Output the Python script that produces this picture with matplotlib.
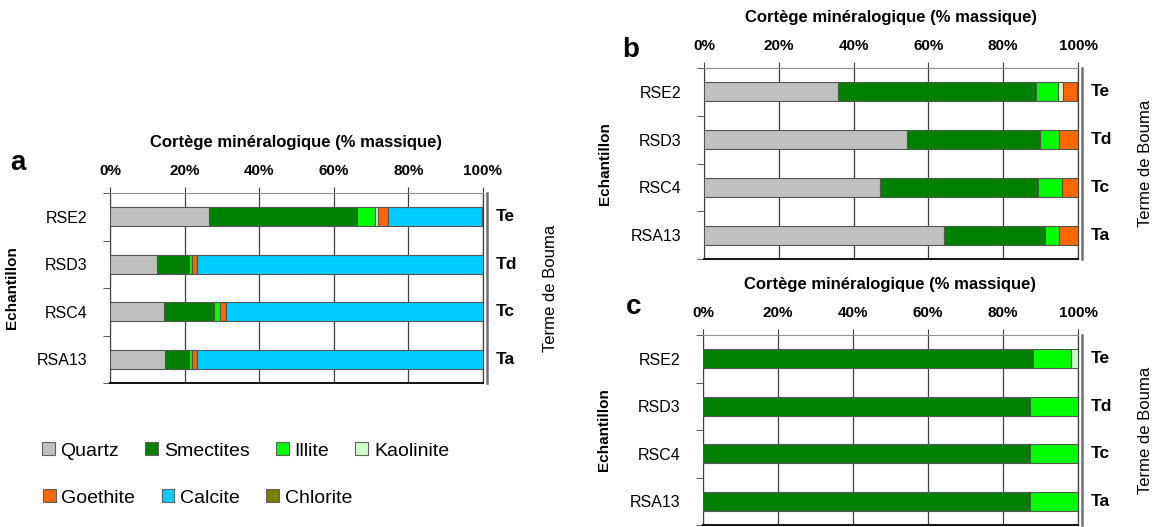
import numpy as np
import matplotlib
matplotlib.use('Agg')
import matplotlib.pyplot as plt
from matplotlib.patches import Patch

plt.rcParams['font.family'] = ['Liberation Sans', 'DejaVu Sans']

# Data (% massique), columns follow `minerals`
samples = ['RSE2', 'RSD3', 'RSC4', 'RSA13']
bouma = ['Te', 'Td', 'Tc', 'Ta']
minerals = ['Quartz', 'Smectites', 'Illite', 'Kaolinite', 'Goethite', 'Calcite', 'Chlorite']
colors = ['#C0C0C0', '#008000', '#00FF00', '#CCFFCC', '#FF6600', '#00CCFF', '#808000']

# panel a: roche totale
values_a = [
    [26.6, 39.7, 4.8, 0.7, 2.8, 25.0, 0.4],
    [12.7, 8.4, 1.0, 0.0, 1.3, 76.6, 0.0],
    [14.5, 13.4, 1.7, 0.0, 1.6, 68.8, 0.0],
    [14.8, 6.4, 0.9, 0.0, 1.3, 76.6, 0.0],
]
# panel b: fraction decarbonatee
values_b = [
    [35.8, 52.9, 6.0, 1.3, 3.6, 0.0, 0.4],
    [54.3, 35.5, 5.1, 0.0, 5.1, 0.0, 0.0],
    [47.1, 42.3, 6.2, 0.0, 4.4, 0.0, 0.0],
    [64.2, 27.1, 3.6, 0.0, 5.1, 0.0, 0.0],
]
# panel c: fraction argileuse
values_c = [
    [0.0, 88.0, 10.0, 2.0, 0.0, 0.0, 0.0],
    [0.0, 87.1, 12.9, 0.0, 0.0, 0.0, 0.0],
    [0.0, 87.1, 12.9, 0.0, 0.0, 0.0, 0.0],
    [0.0, 87.1, 12.9, 0.0, 0.0, 0.0, 0.0],
]
xticks = [0, 20, 40, 60, 80, 100]

W, H = 1157, 527


def box(left, top, right, bottom):
    return [left / W, 1 - bottom / H, (right - left) / W, (bottom - top) / H]


def draw_panel(fig, rect, values, letter, letter_xy):
    ax = fig.add_axes(rect)
    vals = np.array(values)
    y = np.arange(len(samples))
    left = np.zeros(len(samples))
    for i, m in enumerate(minerals):
        w = vals[:, i]
        ax.barh(y, w, left=left, height=0.4, color=colors[i],
                edgecolor='#555555', linewidth=np.where(w > 0, 0.8, 0), zorder=3)
        left += w

    ax.set_xlim(0, 100)
    ax.set_ylim(3.5, -0.5)
    ax.xaxis.tick_top()
    ax.set_xticks(xticks)
    ax.set_xticklabels([f'{t}%' for t in xticks], fontsize=11, fontweight='bold')
    ax.tick_params(axis='x', direction='out', length=4, pad=7, color='#404040')
    ax.grid(axis='x', color='#404040', linewidth=0.9, zorder=0)
    ax.set_axisbelow(True)

    ax.set_yticks(y)
    ax.set_yticklabels(samples, fontsize=11.5)
    ax.tick_params(axis='y', which='major', length=0, pad=16)
    ax.set_yticks(np.arange(-0.5, 4, 1), minor=True)
    ax.tick_params(axis='y', which='minor', length=5, color='#404040')
    ax.set_ylabel('Echantillon', fontsize=11, fontweight='bold')
    ax.yaxis.set_label_coords(-0.245, 0.5)

    ax.spines['top'].set_color('#909090')
    ax.spines['top'].set_linewidth(0.8)
    ax.spines['left'].set_color('#404040')
    ax.spines['right'].set_color('#404040')
    ax.spines['right'].set_linewidth(0.9)
    ax.spines['bottom'].set_color('black')
    ax.spines['bottom'].set_linewidth(1.3)

    ax.text(0.5, 1.265, 'Cortège minéralogique (% massique)', transform=ax.transAxes,
            ha='center', va='center', fontsize=12, fontweight='bold')

    # Bouma terms on the right side
    for yi, b in zip(y, bouma):
        ax.text(1.035, yi, b, transform=ax.get_yaxis_transform(), ha='left',
                va='center', fontsize=12.5, fontweight='bold')

    tw = ax.twinx()
    tw.set_ylim(3.5, -0.5)
    tw.set_yticks([])
    for s in ['left', 'top', 'bottom']:
        tw.spines[s].set_visible(False)
    tw.spines['right'].set_position(('outward', 3))
    tw.spines['right'].set_color('#707070')
    tw.spines['right'].set_linewidth(1.8)
    tw.set_ylabel('Terme de Bouma', fontsize=12)
    tw.yaxis.set_label_coords(1.16, 0.5)

    fig.text(letter_xy[0] / W, 1 - letter_xy[1] / H, letter, fontsize=20,
             fontweight='bold', ha='center', va='center')
    return ax


fig = plt.figure(figsize=(W / 100, H / 100), dpi=100)

draw_panel(fig, box(110, 193, 483, 383), values_a, 'a', (18, 163))
draw_panel(fig, box(704, 68, 1078, 259), values_b, 'b', (631, 50))
draw_panel(fig, box(703, 335, 1078, 525), values_c, 'c', (634, 307))

handles = [Patch(facecolor=c, edgecolor='#606060', linewidth=0.8) for c in colors]
leg_kw = dict(frameon=False, fontsize=14, handlelength=0.65, handleheight=0.65,
              handletextpad=0.3, columnspacing=1.35, borderpad=0, borderaxespad=0,
              loc='center left')
fig.legend(handles[:4], minerals[:4], ncol=4,
           bbox_to_anchor=(42 / W, 1 - 451 / H), **leg_kw)
fig.legend(handles[4:], minerals[4:], ncol=3,
           bbox_to_anchor=(43 / W, 1 - 498 / H), **leg_kw)

fig.savefig('out.png', dpi=100)
